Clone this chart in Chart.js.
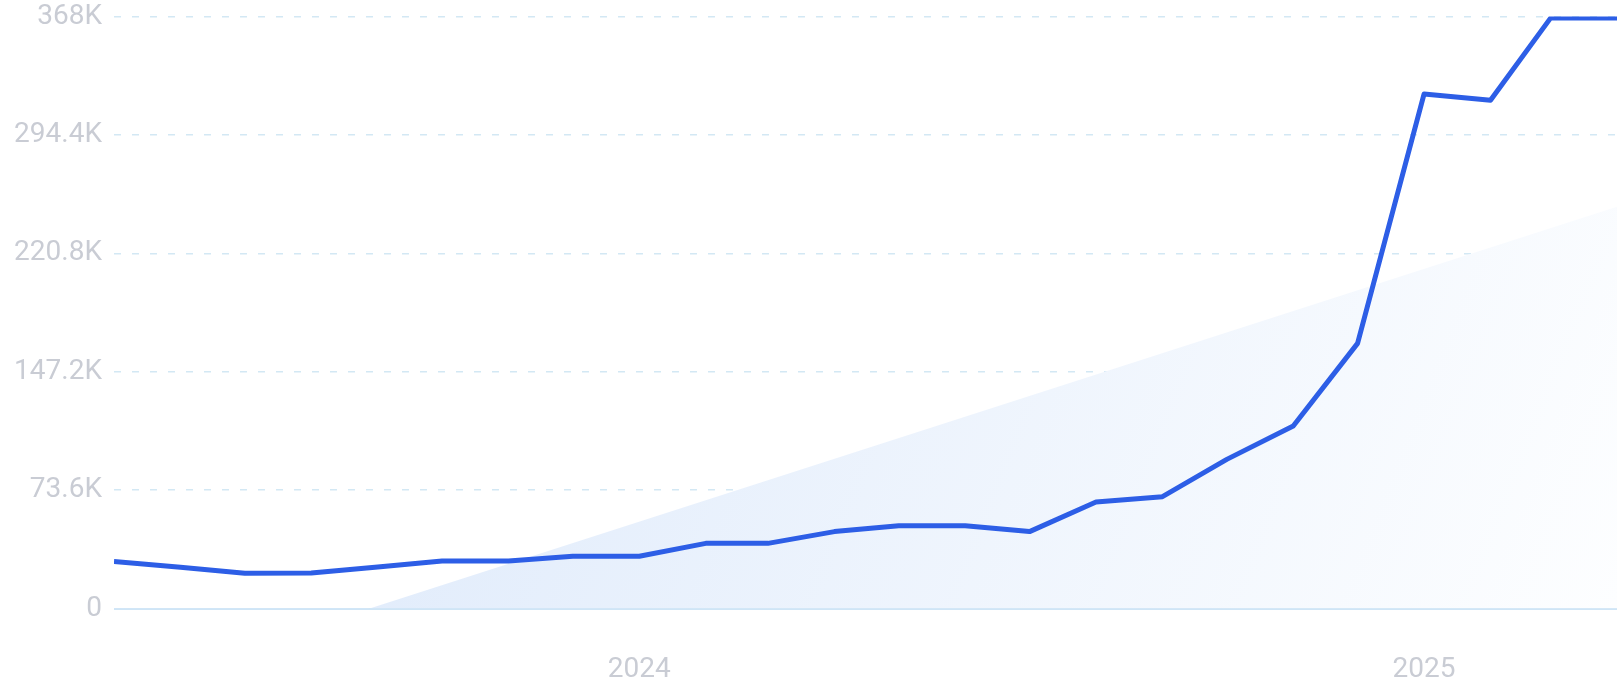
<!DOCTYPE html>
<html>
<head>
<meta charset="utf-8">
<title>Trend</title>
<script src="https://cdn.jsdelivr.net/npm/chart.js@4.4.1/dist/chart.umd.min.js"></script>
<style>
  html, body { margin: 0; padding: 0; background: #ffffff; }
  #wrap { width: 1624px; height: 700px; position: relative; }
</style>
</head>
<body>
<div id="wrap"><canvas id="trend-chart"></canvas></div>
<script>
// monthly points (first day of month)
const months = [
  '2023-05-01', '2023-06-01', '2023-07-01', '2023-08-01', '2023-09-01', '2023-10-01',
  '2023-11-01', '2023-12-01', '2024-01-01', '2024-02-01', '2024-03-01', '2024-04-01',
  '2024-05-01', '2024-06-01', '2024-07-01', '2024-08-01', '2024-09-01', '2024-10-01',
  '2024-11-01', '2024-12-01', '2025-01-01', '2025-02-01', '2025-03-01', '2025-04-01'
];
// search volume, thousands
const volume = [
  29.2, 25.6, 21.9, 22.0, 25.8, 29.5,
  29.5, 32.5, 32.5, 40.5, 40.5, 47.8,
  51.5, 51.5, 47.8, 66.2, 69.5, 92.7,
  113.4, 164.8, 319.8, 316.0, 367.0, 367.0
];
// linear trend, start and end of the range (thousands)
const trendDates = ['2023-05-01', '2025-04-01'];
const trendValues = [-51.2, 249.8];

const yTicks = [0, 73.6, 147.2, 220.8, 294.4, 368];
const yearTicks = ['2024-01-01', '2025-01-01'];

const toTs = s => Date.parse(s + 'T00:00:00Z');
const fmtK = v => v === 0 ? '0' : `${Math.round(v * 10) / 10}K`;

const tickFont = { family: 'Roboto', size: 28, weight: '400' };
const tickColor = '#c9ccd4';

// 背景漸層 (trend area)
function trendFill(context) {
  const { ctx, chartArea } = context.chart;
  if (!chartArea) return 'rgba(220,233,250,0.6)';
  const g = ctx.createLinearGradient(chartArea.left, chartArea.top, chartArea.right, chartArea.bottom);
  g.addColorStop(0, '#d8e6fa');
  g.addColorStop(1, '#fdfeff');
  return g;
}

new Chart(document.getElementById('trend-chart'), {
  type: 'line',
  data: {
    datasets: [
      {
        label: 'Volume',
        data: months.map((m, i) => ({ x: toTs(m), y: volume[i] })),
        borderColor: '#2d5ee6',
        borderWidth: 5,
        borderJoinStyle: 'round',
        pointRadius: 0,
        tension: 0,
        fill: false
      },
      {
        label: 'Trend',
        data: trendDates.map((d, i) => ({ x: toTs(d), y: trendValues[i] })),
        borderWidth: 0,
        borderColor: 'rgba(0,0,0,0)',
        backgroundColor: trendFill,
        pointRadius: 0,
        fill: 'origin'
      }
    ]
  },
  options: {
    responsive: true,
    maintainAspectRatio: false,
    animation: false,
    devicePixelRatio: 1,
    layout: { padding: { left: 0, right: 7, top: 0, bottom: 0 } },
    plugins: { legend: { display: false }, tooltip: { enabled: false } },
    scales: {
      x: {
        type: 'linear',
        min: toTs(months[0]),
        max: toTs(months[months.length - 1]),
        afterBuildTicks: scale => { scale.ticks = yearTicks.map(d => ({ value: toTs(d) })); },
        afterFit: scale => { scale.height = 91.5; },
        ticks: {
          font: tickFont,
          color: tickColor,
          padding: 45,
          maxRotation: 0,
          callback: v => String(new Date(v).getUTCFullYear())
        },
        grid: { display: false, drawTicks: false },
        border: { display: false }
      },
      y: {
        min: 0,
        max: 368,
        afterBuildTicks: scale => { scale.ticks = yTicks.map(v => ({ value: v })); },
        afterFit: scale => {
          scale.width = 114;
          scale.paddingTop = 16.5;
          scale.paddingBottom = 0;
        },
        ticks: {
          font: tickFont,
          color: tickColor,
          padding: 12,
          callback: v => fmtK(v)
        },
        grid: {
          drawTicks: false,
          lineWidth: ctx => ctx.tick && ctx.tick.value === 0 ? 2 : 1.5,
          color: ctx => ctx.tick && ctx.tick.value === 0 ? '#cfe5f6' : '#d3e8f4'
        },
        border: {
          display: false,
          dash: ctx => ctx.tick && ctx.tick.value === 0 ? [] : [7, 11]
        }
      }
    }
  }
});
</script>
</body>
</html>
